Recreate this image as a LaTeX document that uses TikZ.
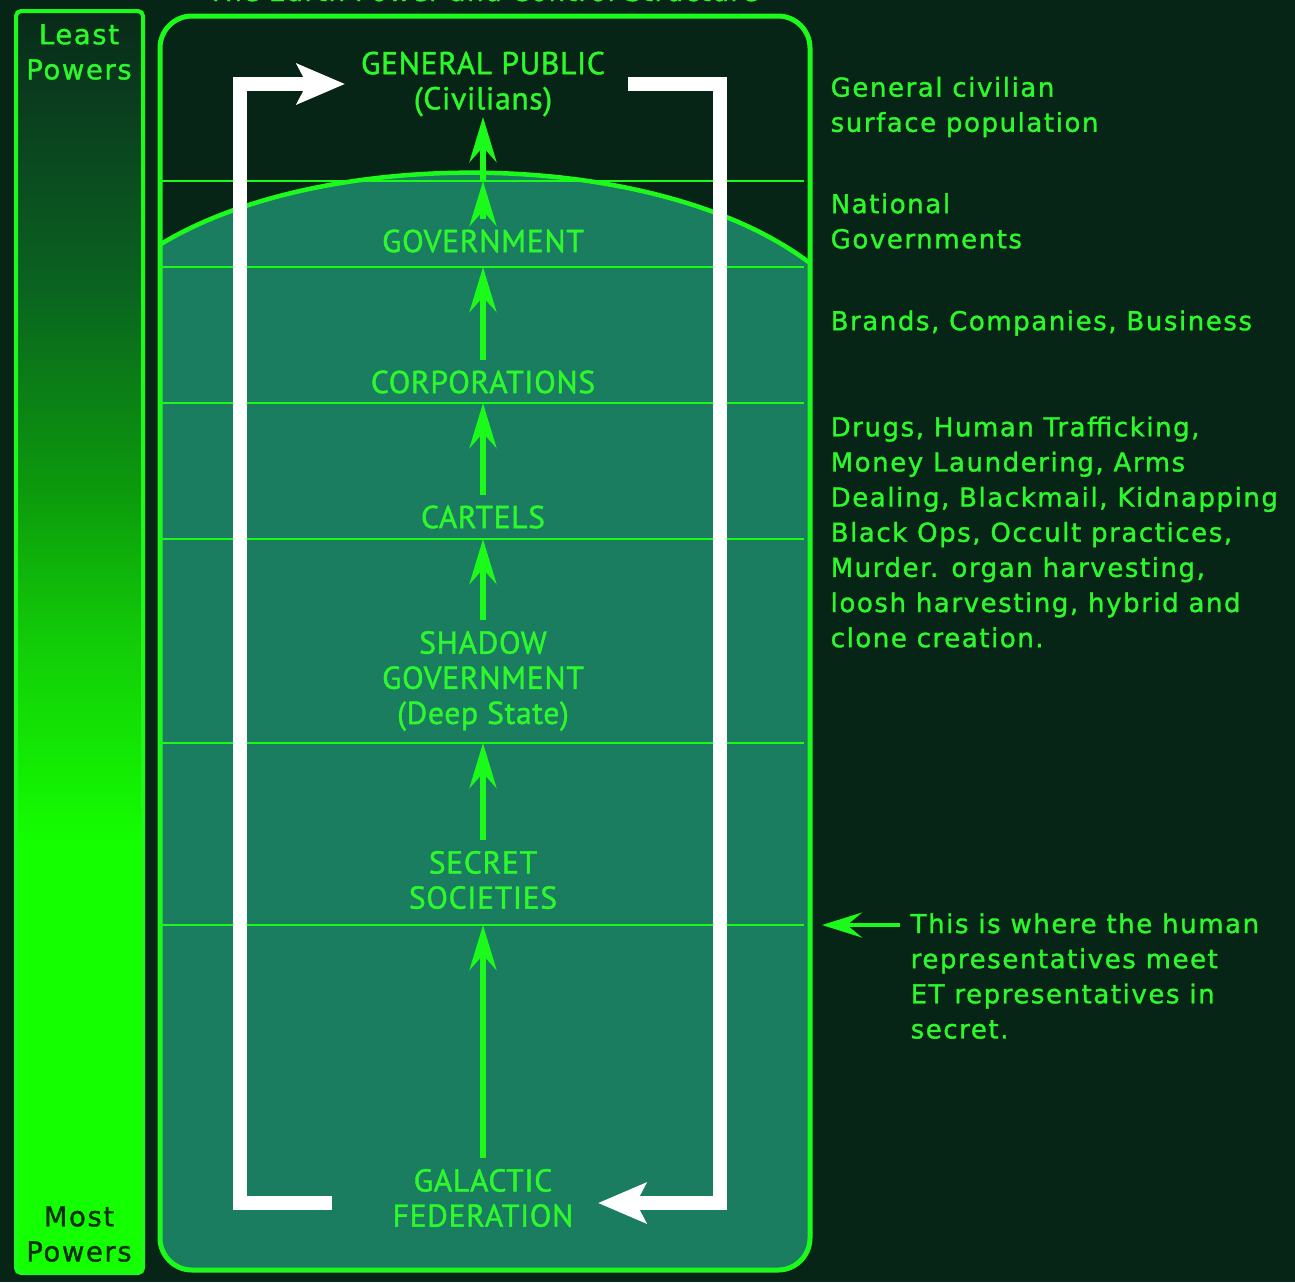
\documentclass[tikz,border=0pt]{standalone}
\usepackage{fontspec}
\setmainfont[FakeBold=1.3, LetterSpace=6]{DejaVu Sans}
\newfontfamily\tierfont[FakeBold=1.3, LetterSpace=2]{PT Sans}
\usepackage{tikz}
\usetikzlibrary{arrows.meta}
\definecolor{EarthBg}{HTML}{072516}
\definecolor{EarthTeal}{HTML}{1A7D60}
\definecolor{EarthNeon}{HTML}{1CFA1C}
\definecolor{EarthText}{HTML}{2CF82C}
\definecolor{EarthDark}{HTML}{0A3014}
\definecolor{BarTop}{HTML}{082A18}
\definecolor{BarHigh}{HTML}{0A3A1E}
\definecolor{BarUpper}{HTML}{0A6420}
\definecolor{BarMid}{HTML}{0C9A0C}
\definecolor{BarLow}{HTML}{12CC08}
\definecolor{BarBright}{HTML}{14FF00}
\pgfdeclareverticalshading{powerbar}{100bp}{color(0bp)=(BarBright); color(42bp)=(BarBright); color(50bp)=(BarLow); color(56bp)=(BarMid); color(64bp)=(BarUpper); color(72bp)=(BarHigh); color(75bp)=(BarTop); color(100bp)=(BarTop)}

\begin{document}
\begin{tikzpicture}[
  x=0.1mm, y=-0.1mm,
  tier/.style={text=EarthText, align=center, inner sep=1mm, font=\tierfont\fontsize{9}{10}\selectfont},
  note/.style={text=EarthText, align=left, anchor=west, inner sep=0pt, font=\fontsize{7.4}{10}\selectfont},
  side/.style={align=center, inner sep=0pt, font=\fontsize{7.8}{10}\selectfont},
  sep/.style={draw=EarthNeon, line width=0.2mm},
  dome/.style={draw=EarthNeon, line width=0.45mm},
  up/.style={-{Stealth[length=4.5mm, width=2.7mm, inset=1.5mm]}, line width=0.6mm, draw=EarthNeon},
  point/.style={-{Stealth[length=4mm, width=2.5mm, inset=1.5mm]}, line width=0.45mm, draw=EarthNeon},
  ret/.style={-{Stealth[length=4.8mm, width=4mm, inset=1mm]}, line width=1.4mm, draw=white, line join=miter}
]
  \useasboundingbox (0,0) rectangle (1295,1282);
  \fill[EarthBg] (0,0) rectangle (1295,1282);
  \clip (0,0) rectangle (1295,1282);

  % power scale
  \draw[EarthNeon, line width=0.4mm, rounded corners=0.5mm, shading=powerbar] (16,11) rectangle (143,1273);
  \node[side, text=EarthText] (least) at (79,52) {Least\\Powers};
  \node[side, text=EarthDark] (most) at (79,1234) {Most\\Powers};

  % surface and underground
  \begin{scope}
    \clip[rounded corners=3.2mm] (160,16) rectangle (810,1270);
    \fill[EarthTeal] (150,251) .. controls (310,144) and (660,144) .. (815,267) -- (815,1280) -- (150,1280) -- cycle;
    \draw[dome] (150,251) .. controls (310,144) and (660,144) .. (815,267);
  \end{scope}
  \foreach \y [count=\i] in {181,267,403,539,743,925} {
    \draw[sep] (160,\y) -- (804,\y);
    \coordinate (s\i) at (483,\y);
  }
  \draw[EarthNeon, line width=0.5mm, rounded corners=3.2mm] (160,16) rectangle (810,1270);

  \node[note, anchor=base] (title) at (483,1) {The Earth Power and Control Structure};

  \node[tier] (public) at (483,84) {GENERAL PUBLIC\\(Civilians)};
  \node[tier] (govt) at (483,241) {GOVERNMENT};
  \node[tier] (corps) at (483,382) {CORPORATIONS};
  \node[tier] (cartels) at (483,517) {CARTELS};
  \node[tier] (shadow) at (483,681) {SHADOW\\GOVERNMENT\\(Deep State)};
  \node[tier] (secret) at (483,880) {SECRET\\SOCIETIES};
  \node[tier] (galactic) at (483,1198) {GALACTIC\\FEDERATION};

  \draw[up] (galactic) -- (s6);
  \draw[up] (secret) -- (s5);
  \draw[up] (shadow) -- (s4);
  \draw[up] (cartels) -- (s3);
  \draw[up] (corps) -- (s2);
  \draw[up] (govt) -- (s1);
  \draw[up, shorten >=-1mm] (s1) -- (public);

  % the loop round
  \coordinate (lstart) at (332,1203);
  \coordinate (lcorner) at (240,84);
  \coordinate (ltip) at (345,84);
  \coordinate (rstart) at (628,84);
  \coordinate (rcorner) at (720,1203);
  \coordinate (rtip) at (598,1203);
  \draw[ret] (lstart) -| (lcorner) -- (ltip);
  \draw[ret] (rstart) -| (rcorner) -- (rtip);

  \node[note] (civil) at (830,107) {General civilian\\surface population};
  \node[note] (natgov) at (830,221) {National\\Governments};
  \node[note] (brands) at (830,323) {Brands, Companies, Business};
  \node[note] (crime) at (830,532) {Drugs, Human Trafficking,\\Money Laundering, Arms\\Dealing, Blackmail, Kidnapping\\Black Ops, Occult practices,\\Murder. organ harvesting,\\loosh harvesting, hybrid and\\clone creation.};
  \node[note] (meet) at (910,976) {This is where the human\\representatives meet\\ET representatives in\\secret.};
  \coordinate (edge) at (822,925);
  \draw[point, shorten <=1mm] (meet.west |- edge) -- (edge);
\end{tikzpicture}
\end{document}
